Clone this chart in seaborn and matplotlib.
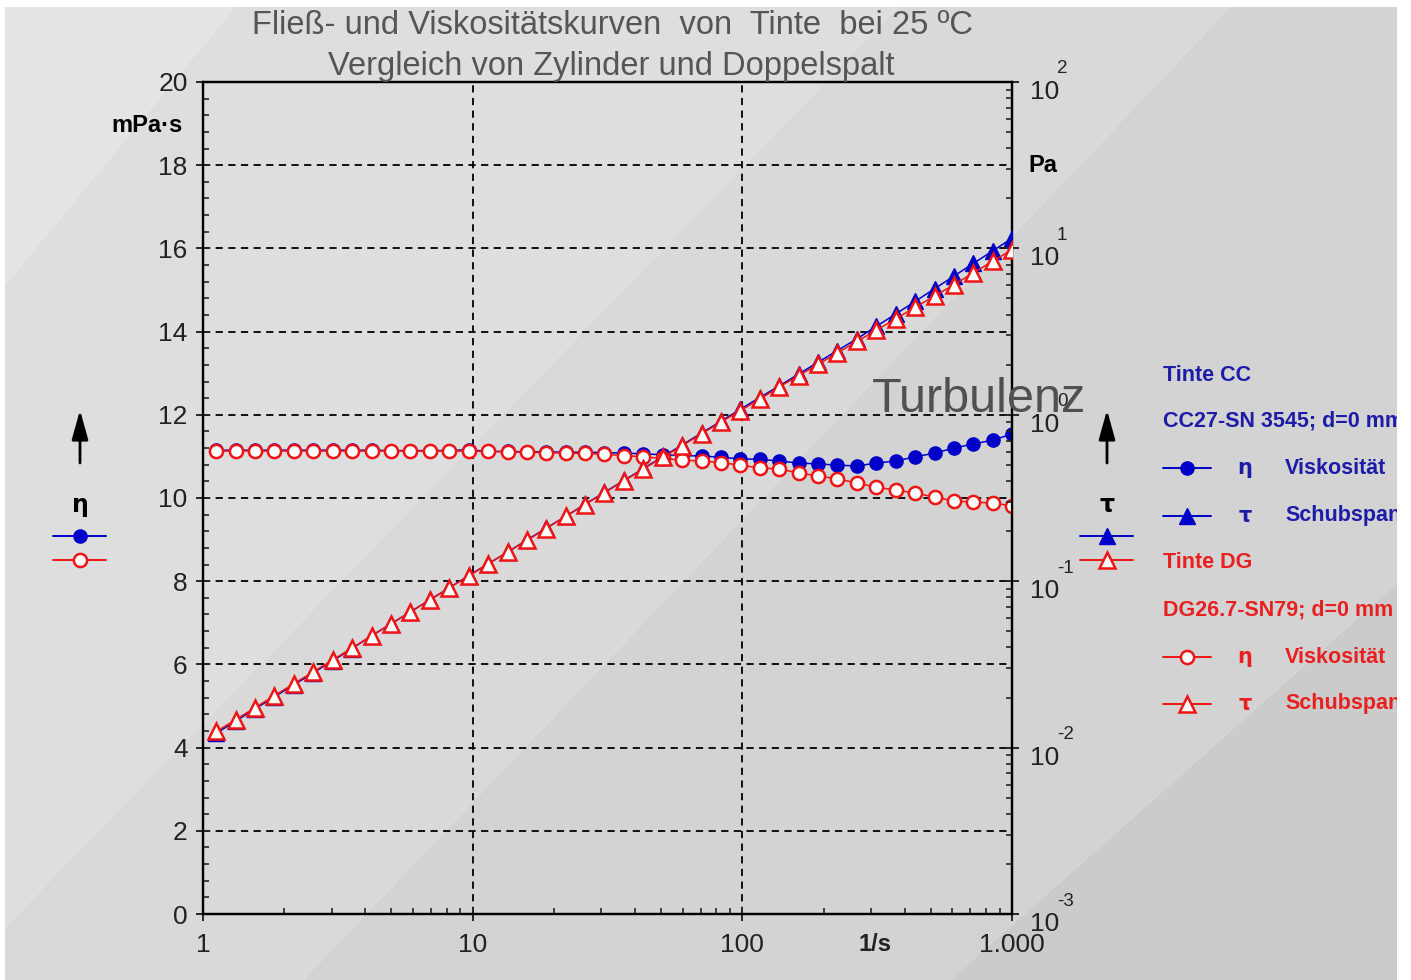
import matplotlib
matplotlib.use("Agg")
import matplotlib.pyplot as plt
import seaborn as sns
from matplotlib.patches import Polygon, Rectangle, FancyArrowPatch
from matplotlib.lines import Line2D
from matplotlib.ticker import MultipleLocator, LogLocator, NullFormatter

# shear rate 1/s
shear_rate = [1.12, 1.32, 1.56, 1.84, 2.17, 2.56, 3.03, 3.57, 4.22, 4.98, 5.87, 6.93,
              8.18, 9.66, 11.4, 13.5, 15.9, 18.7, 22.1, 26.1, 30.8, 36.4, 43.0, 50.7,
              59.8, 70.6, 83.4, 98.4, 116, 137, 162, 191, 225, 266, 314, 371, 438, 516,
              610, 719, 849, 1000]

# viscosity mPa·s
eta_cc = [11.15, 11.15, 11.15, 11.15, 11.15, 11.15, 11.15, 11.15, 11.15, 11.14, 11.14,
          11.14, 11.14, 11.16, 11.12, 11.12, 11.11, 11.11, 11.10, 11.10, 11.09, 11.08,
          11.06, 11.04, 11.02, 11.01, 10.98, 10.94, 10.93, 10.89, 10.84, 10.82, 10.79,
          10.77, 10.84, 10.89, 10.99, 11.08, 11.20, 11.30, 11.39, 11.54]
eta_dg = [11.13, 11.13, 11.13, 11.13, 11.13, 11.13, 11.13, 11.13, 11.13, 11.13, 11.13,
          11.13, 11.13, 11.13, 11.12, 11.11, 11.10, 11.09, 11.08, 11.07, 11.05, 11.02,
          10.99, 10.95, 10.91, 10.89, 10.85, 10.79, 10.72, 10.70, 10.60, 10.53, 10.46,
          10.36, 10.26, 10.19, 10.12, 10.02, 9.93, 9.90, 9.88, 9.81]

# shear stress Pa
tau_cc = [0.0122, 0.0144, 0.0171, 0.0202, 0.0238, 0.0281, 0.0333, 0.0394, 0.0470, 0.0555,
          0.0654, 0.0772, 0.0911, 0.108, 0.127, 0.150, 0.177, 0.208, 0.245, 0.290, 0.342,
          0.403, 0.476, 0.560, 0.659, 0.777, 0.916, 1.08, 1.27, 1.49, 1.76, 2.07, 2.43,
          2.86, 3.40, 4.04, 4.81, 5.72, 6.83, 8.12, 9.67, 11.5]
tau_dg = [0.0125, 0.0147, 0.0174, 0.0205, 0.0242, 0.0285, 0.0337, 0.0397, 0.0470, 0.0554,
          0.0653, 0.0771, 0.0910, 0.1075, 0.127, 0.150, 0.176, 0.207, 0.245, 0.289, 0.340,
          0.401, 0.473, 0.555, 0.652, 0.769, 0.905, 1.06, 1.24, 1.47, 1.72, 2.01, 2.35,
          2.76, 3.22, 3.78, 4.43, 5.17, 6.06, 7.12, 8.39, 9.81]

x_ticks = [1, 10, 100, 1000]
x_tick_labels = ["1", "10", "100", "1.000"]
tau_decades = [-3, -2, -1, 0, 1, 2]

BLUE = "#0000C8"
RED = "#F01414"
BLUE_TXT = "#1C1CA8"
RED_TXT = "#E82020"
TICK = "#222222"
W, H = 1411, 980

sns.set_style("ticks")
plt.rcParams["font.family"] = ["Liberation Sans", "DejaVu Sans"]


def fx(x):
    return x / W


def fy(y):
    return 1 - y / H


def pts(coords):
    return [(fx(a), fy(b)) for a, b in coords]


fig = plt.figure(figsize=(W / 100, H / 100), dpi=100, facecolor="white")

# diagonal background bands
bands = [
    ([(5, 7), (235, 7), (5, 285)], "#e4e4e4"),
    ([(235, 7), (898, 7), (5, 927), (5, 285)], "#dedede"),
    ([(898, 7), (1230, 7), (303, 980), (5, 980), (5, 927)], "#d9d9d9"),
    ([(1230, 7), (1397, 7), (1397, 583), (950, 980), (303, 980)], "#d3d3d3"),
    ([(1397, 583), (1397, 980), (950, 980)], "#cbcbcb"),
]
for poly, col in bands:
    fig.patches.append(Polygon(pts(poly), closed=True, transform=fig.transFigure,
                               facecolor=col, edgecolor="none", zorder=-10))

ax = fig.add_axes([fx(203), fy(914), (1012 - 203) / W, (914 - 82) / H])
ax.patch.set_alpha(0)

sns.lineplot(x=shear_rate, y=eta_cc, ax=ax, color=BLUE, marker="o", markersize=9.5,
             markerfacecolor=BLUE, markeredgecolor=BLUE, markeredgewidth=1,
             linewidth=1.1, estimator=None, sort=False, zorder=4)
sns.lineplot(x=shear_rate, y=eta_dg, ax=ax, color=RED, marker="o", markersize=9.5,
             markerfacecolor="white", markeredgecolor=RED, markeredgewidth=1.8,
             linewidth=1.1, estimator=None, sort=False, zorder=5)

ax.set_xscale("log")
ax.set_xlim(1, 1000)
ax.set_ylim(0, 20)
ax.yaxis.set_major_locator(MultipleLocator(2))
ax.yaxis.set_minor_locator(MultipleLocator(0.4))
ax.set_xticks(x_ticks, x_tick_labels)
ax.xaxis.set_minor_locator(LogLocator(base=10, subs=range(2, 10)))
ax.xaxis.set_minor_formatter(NullFormatter())
ax.set_xlabel("")
ax.set_ylabel("")
ax.grid(True, which="major", color="black", linestyle=(0, (4, 3)), linewidth=1.3)
ax.tick_params(which="major", direction="inout", length=10, width=1.4,
               labelsize=19, labelcolor=TICK, pad=6)
ax.tick_params(which="minor", direction="in", length=4.5, width=1.2)
ax.tick_params(axis="x", which="major", pad=9)
for s in ax.spines.values():
    s.set_linewidth(1.6)
    s.set_color("black")
    s.set_visible(True)

ax2 = ax.twinx()
sns.lineplot(x=shear_rate, y=tau_cc, ax=ax2, color=BLUE, marker="^", markersize=12,
             markerfacecolor=BLUE, markeredgecolor=BLUE, markeredgewidth=1,
             linewidth=1.1, estimator=None, sort=False, zorder=4)
sns.lineplot(x=shear_rate, y=tau_dg, ax=ax2, color=RED, marker="^", markersize=12,
             markerfacecolor="white", markeredgecolor=RED, markeredgewidth=1.8,
             linewidth=1.1, estimator=None, sort=False, zorder=5)
ax2.set_yscale("log")
ax2.set_ylim(1e-3, 1e2)
ax2.set_xlim(1, 1000)
ax2.set_ylabel("")
ax2.set_yticks([10.0 ** k for k in tau_decades])
ax2.yaxis.set_minor_locator(LogLocator(base=10, subs=range(2, 10)))
ax2.yaxis.set_major_formatter(NullFormatter())
ax2.yaxis.set_minor_formatter(NullFormatter())
ax2.tick_params(which="major", direction="inout", length=10, width=1.4)
ax2.tick_params(which="minor", direction="in", length=4.5, width=1.2)
for s in ax2.spines.values():
    s.set_linewidth(1.6)
    s.set_color("black")

for k in tau_decades:
    ax2.annotate("10", xy=(1, 10.0 ** k), xycoords=("axes fraction", "data"),
                 xytext=(18, -10), textcoords="offset pixels", ha="left", va="center",
                 fontsize=19, color=TICK, annotation_clip=False)
    ax2.annotate(str(k), xy=(1, 10.0 ** k), xycoords=("axes fraction", "data"),
                 xytext=(45, 13), textcoords="offset pixels", ha="left", va="center",
                 fontsize=13.5, color=TICK, annotation_clip=False)

# titles and unit labels
fig.text(fx(612), fy(25), "Fließ- und Viskositätskurven  von  Tinte  bei 25 ºC",
         ha="center", va="center", fontsize=23.5, color="#555555")
fig.text(fx(611), fy(66), "Vergleich von Zylinder und Doppelspalt",
         ha="center", va="center", fontsize=23.5, color="#555555")
fig.text(fx(147), fy(125), "mPa·s", ha="center", va="center", fontsize=17,
         fontweight="bold", color="black")
fig.text(fx(1043), fy(165), "Pa", ha="center", va="center", fontsize=17,
         fontweight="bold", color="black")
fig.text(fx(875), fy(944), "1/s", ha="center", va="center", fontsize=17,
         fontweight="bold", color=TICK)
fig.text(fx(979), fy(400), "Turbulenz", ha="center", va="center", fontsize=35,
         color="#505050", zorder=20)

# axis indicators (arrow, symbol, keys)
styles = {
    "eta_cc": dict(marker="o", color=BLUE, markerfacecolor=BLUE, markeredgecolor=BLUE, ms=9.5),
    "eta_dg": dict(marker="o", color=RED, markerfacecolor="white", markeredgecolor=RED, ms=9.5, mew=1.8),
    "tau_cc": dict(marker="^", color=BLUE, markerfacecolor=BLUE, markeredgecolor=BLUE, ms=12),
    "tau_dg": dict(marker="^", color=RED, markerfacecolor="white", markeredgecolor=RED, ms=12, mew=1.8),
}


def key(x0, x1, y, name):
    st = dict(styles[name])
    fig.add_artist(Line2D([fx(x0), fx(x1)], [fy(y), fy(y)], transform=fig.transFigure,
                          color=st["color"], lw=1.4))
    fig.add_artist(Line2D([fx((x0 + x1) / 2)], [fy(y)], transform=fig.transFigure,
                          linestyle="none", **st))


for xc, sym, k1, k2 in [(80, "η", "eta_cc", "eta_dg"), (1107, "τ", "tau_cc", "tau_dg")]:
    fig.add_artist(FancyArrowPatch(
        (fx(xc), fy(463)), (fx(xc), fy(410)), transform=fig.transFigure,
        arrowstyle="-|>,head_length=0.9,head_width=0.25", mutation_scale=20,
        shrinkA=0, shrinkB=0, color="black", lw=2))
    fig.text(fx(xc), fy(505), sym, ha="center", va="center", fontsize=17,
             fontweight="bold", family=["DejaVu Sans"], color="black")
    key(xc - 27, xc + 26, 536, k1)
    key(xc - 27, xc + 26, 560, k2)

# right legend
legend_rows = [
    (375, "Tinte CC", BLUE_TXT, None, None),
    (421, "CC27-SN 3545; d=0 mm", BLUE_TXT, None, None),
    (468, "Viskosität", BLUE_TXT, "η", "eta_cc"),
    (516, "Schubspannung", BLUE_TXT, "τ", "tau_cc"),
    (563, "Tinte DG", RED_TXT, None, None),
    (610, "DG26.7-SN79; d=0 mm", RED_TXT, None, None),
    (657, "Viskosität", RED_TXT, "η", "eta_dg"),
    (704, "Schubspannung", RED_TXT, "τ", "tau_dg"),
]
for y, label, col, sym, name in legend_rows:
    if name is None:
        fig.text(fx(1163), fy(y), label, ha="left", va="center", fontsize=15.5,
                 fontweight="bold", color=col)
    else:
        key(1163, 1211, y, name)
        fig.text(fx(1245), fy(y), sym, ha="center", va="center", fontsize=15,
                 fontweight="bold", family=["DejaVu Sans"], color=col)
        fig.text(fx(1285), fy(y), label, ha="left", va="center", fontsize=15.5,
                 fontweight="bold", color=col)

# white frame around the screenshot area
for rect in [(1397, 0, 14, 980), (0, 0, 1411, 7), (0, 0, 5, 980)]:
    x0, y0, w, h = rect
    fig.patches.append(Rectangle((fx(x0), fy(y0 + h)), w / W, h / H, transform=fig.transFigure,
                                 facecolor="white", edgecolor="none", zorder=100))

fig.savefig("out.png", dpi=100, facecolor="white")
